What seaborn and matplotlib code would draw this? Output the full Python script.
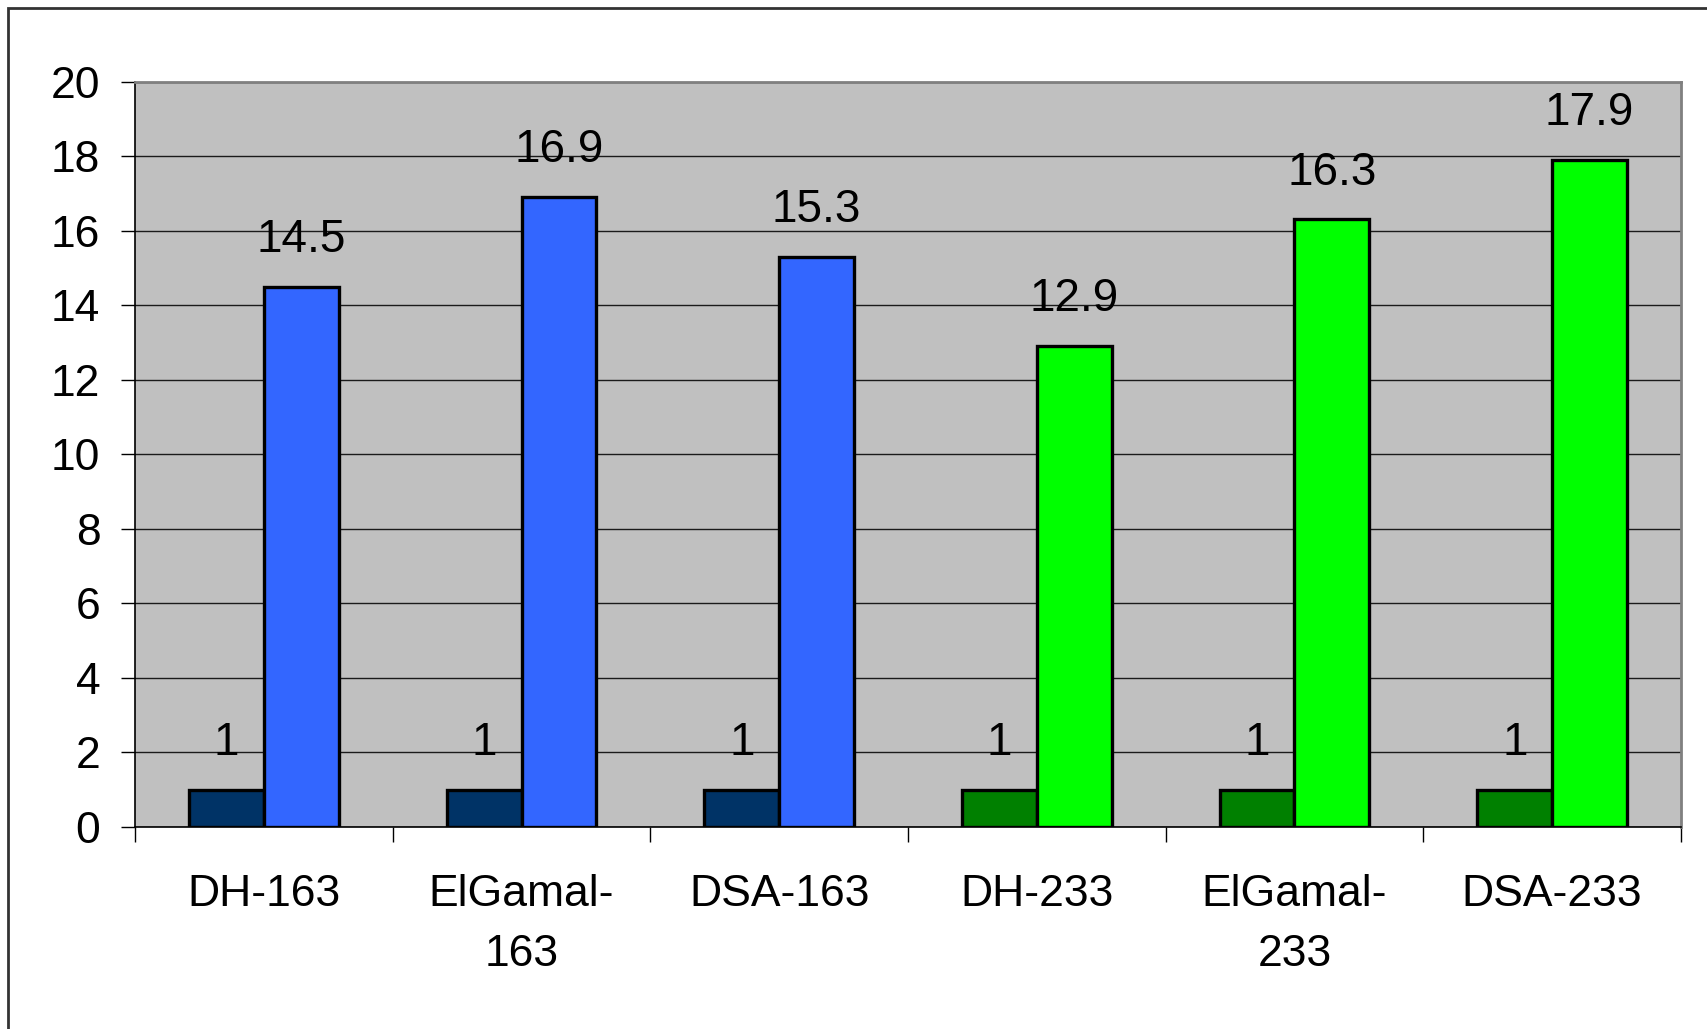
import matplotlib
matplotlib.use("Agg")
import matplotlib.pyplot as plt
import seaborn as sns
import pandas as pd
from matplotlib.patches import Rectangle
from matplotlib.ticker import FixedLocator

# Data
categories = ["DH-163", "ElGamal-\n163", "DSA-163", "DH-233", "ElGamal-\n233", "DSA-233"]
series_names = ["Baseline", "Measured"]
baseline_values = [1, 1, 1, 1, 1, 1]
measured_values = [14.5, 16.9, 15.3, 12.9, 16.3, 17.9]
y_ticks = [0, 2, 4, 6, 8, 10, 12, 14, 16, 18, 20]

# Colors per key size group (163 -> blues, 233 -> greens)
dark_colors = ["#003366", "#003366", "#003366", "#008000", "#008000", "#008000"]
light_colors = ["#3366FF", "#3366FF", "#3366FF", "#00FF00", "#00FF00", "#00FF00"]

df = pd.DataFrame({
    "category": categories * 2,
    "series": [series_names[0]] * len(categories) + [series_names[1]] * len(categories),
    "value": baseline_values + measured_values,
})

sns.set_theme(style="white")
plt.rcParams["font.family"] = ["Liberation Sans", "DejaVu Sans"]
plt.rcParams["text.color"] = "black"
plt.rcParams["xtick.color"] = "black"
plt.rcParams["ytick.color"] = "black"

fig = plt.figure(figsize=(17.07, 10.29), dpi=100)
ax = fig.add_axes([135 / 1707, 1 - 827 / 1029, (1681 - 135) / 1707, (827 - 81.6) / 1029])

sns.barplot(data=df, x="category", y="value", hue="series", order=categories,
            hue_order=series_names, width=0.58, dodge=True, legend=False,
            palette=["#003366", "#3366FF"], edgecolor="black", linewidth=2.4,
            ax=ax, zorder=3)

# Recolor per group and add value labels
for container, colors, vals in zip(ax.containers, [dark_colors, light_colors],
                                   [baseline_values, measured_values]):
    for patch, c, v in zip(container.patches, colors, vals):
        patch.set_facecolor(c)
        patch.set_alpha(1)
        ax.annotate(f"{v:g}", (patch.get_x() + patch.get_width() / 2, v),
                    xytext=(0, 25), textcoords="offset points",
                    ha="center", va="baseline", fontsize=33, color="black", zorder=5)

ax.set_facecolor("#C0C0C0")
ax.set_ylim(0, 20)
ax.set_xlim(-0.5, len(categories) - 0.5)
ax.set_yticks(y_ticks)
ax.set_yticklabels([str(t) for t in y_ticks], fontsize=32, color="black")
ax.yaxis.grid(True, color="#1a1a1a", linewidth=1.0, zorder=1)
ax.set_axisbelow(True)
ax.set_xlabel("")
ax.set_ylabel("")

ax.tick_params(axis="y", which="major", direction="out", length=10, width=1,
               color="black", pad=15, left=True, labelcolor="black")
ax.tick_params(axis="x", which="major", length=0, pad=34, labelsize=32, labelcolor="black")
ax.xaxis.set_minor_locator(FixedLocator([i - 0.5 for i in range(len(categories) + 1)]))
ax.tick_params(axis="x", which="minor", direction="out", length=11, width=1,
               color="black", bottom=True)
for lbl in ax.get_xticklabels():
    lbl.set_linespacing(1.58)

for side in ["left", "bottom"]:
    ax.spines[side].set_color("black")
    ax.spines[side].set_linewidth(1.2)
for side in ["top", "right"]:
    ax.spines[side].set_color("#808080")
    ax.spines[side].set_linewidth(2)
    ax.spines[side].set_visible(True)

# Outer chart frame
fig.patches.append(Rectangle((8 / 1707, -0.05), 1.2, 1 - 8 / 1029 + 0.05,
                             transform=fig.transFigure, fill=False,
                             edgecolor="#333333", linewidth=2))

fig.savefig("out.png", dpi=100, facecolor="white")
